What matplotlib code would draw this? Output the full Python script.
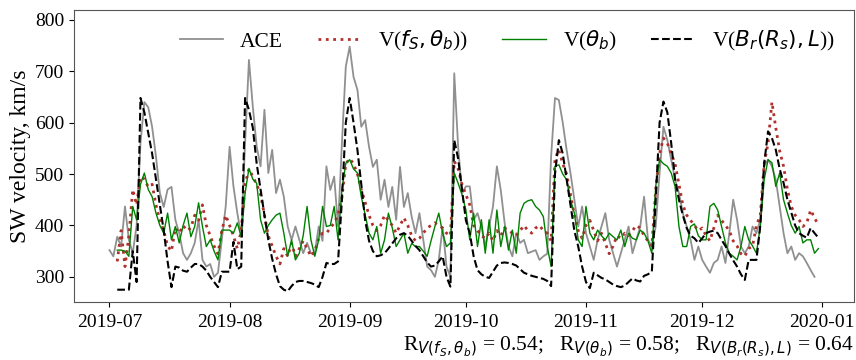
import matplotlib
matplotlib.use("Agg")
import matplotlib.pyplot as plt
import numpy as np
import pandas as pd

plt.rcParams['font.family'] = ['Liberation Serif', 'DejaVu Serif']
plt.rcParams['mathtext.fontset'] = 'dejavusans'

nan = np.nan
dates = pd.date_range('2019-07-01', periods=184, freq='D')

# скорость по данным ACE, км/с
ace = [352, 340, 378, 359, 437, 372, 346, 400, 560, 640,
       630, 592, 534, 463, 436, 470, 475, 411, 385, 346,
       333, 346, 366, 411, 333, 320, 325, 300, 308, 372,
       437, 553, 476, 424, 380, 560, 722, 631, 553, 515,
       625, 502, 547, 463, 489, 456, 398, 372, 398, 372,
       346, 366, 346, 346, 398, 370, 515, 469, 495, 398,
       560, 709, 748, 689, 664, 592, 605, 553, 514, 528,
       450, 489, 436, 475, 411, 514, 436, 463, 417, 385,
       424, 372, 320, 313, 300, 333, 397, 320, 300, 696,
       553, 463, 476, 476, 411, 424, 398, 359, 398, 437,
       515, 469, 405, 359, 340, 385, 366, 372, 346, 349,
       352, 333, 340, 345, 534, 648, 644, 600, 547, 502,
       450, 398, 437, 385, 359, 333, 372, 398, 424, 372,
       346, 320, 346, 372, 398, 346, 372, 398, 456, 372,
       360, 398, 502, 592, 566, 528, 489, 463, 424, 398,
       372, 333, 359, 333, 320, 308, 327, 333, 359, 327,
       385, 450, 411, 359, 346, 359, 398, 385, 411, 515,
       528, 515, 489, 437, 385, 346, 359, 333, 346, 340,
       327, 313, 300, nan]

# V(f_S, theta_b)
v_fs = [nan, nan, 330, 390, 320, 380, 470, 440, 495, 490,
        475, 480, 440, 410, 390, 360, 350, 395, 385, 400,
        390, 395, 420, 410, 440, 400, 380, 360, 345, 390,
        420, 400, 380, 355, 390, 480, 510, 495, 480, 460,
        420, 380, 360, 340, 325, 355, 340, 365, 340, 355,
        370, 355, 340, 350, 375, 385, 385, 395, 405, 420,
        455, 520, 530, 520, 500, 470, 445, 420, 400, 390,
        400, 420, 410, 400, 385, 400, 415, 400, 380, 370,
        375, 385, 395, 400, 405, 400, 395, 385, 380, 525,
        510, 480, 460, 440, 400, 390, 380, 375, 385, 370,
        390, 380, 395, 390, 385, 380, 390, 400, 390, 385,
        395, 400, 390, 385, 370, 530, 547, 520, 500, 460,
        420, 390, 375, 400, 410, 390, 370, 385, 365, 345,
        360, 380, 375, 385, 380, 390, 400, 395, 380, 370,
        360, 470, 540, 570, 560, 540, 520, 480, 440, 420,
        410, 400, 390, 395, 380, 370, 395, 420, 410, 400,
        390, 370, 360, 345, 340, 355, 360, 400, 420, 520,
        560, 640, 590, 545, 515, 470, 437, 420, 411, 398,
        405, 430, 415, 400]

# V(theta_b)
v_tb = [nan, nan, 352, 352, 350, 340, 437, 411, 480, 502,
        470, 456, 424, 400, 385, 424, 372, 398, 366, 400,
        424, 378, 398, 444, 398, 359, 372, 350, 333, 391,
        391, 391, 385, 405, 378, 463, 511, 490, 482, 411,
        385, 400, 411, 420, 424, 385, 340, 372, 333, 346,
        380, 437, 372, 340, 372, 437, 398, 400, 437, 372,
        470, 521, 528, 510, 502, 456, 420, 385, 372, 398,
        346, 372, 424, 395, 359, 372, 385, 346, 365, 359,
        359, 350, 340, 370, 398, 424, 385, 359, 366, 502,
        482, 460, 430, 372, 424, 359, 411, 346, 411, 346,
        430, 359, 398, 352, 391, 346, 424, 443, 448, 450,
        437, 430, 417, 359, 320, 515, 518, 500, 489, 450,
        424, 372, 359, 437, 385, 372, 391, 380, 372, 385,
        378, 372, 391, 359, 385, 375, 372, 391, 385, 370,
        346, 476, 528, 520, 515, 502, 476, 398, 359, 359,
        398, 403, 380, 372, 372, 437, 443, 430, 398, 366,
        346, 340, 333, 359, 398, 372, 360, 346, 398, 489,
        528, 522, 476, 502, 450, 424, 400, 385, 398, 366,
        372, 372, 346, 355]

# V(B_r(R_s), L)
v_br = [nan, nan, 275, 275, 275, 275, 350, 290, 648, 620,
        580, 540, 490, 440, 390, 330, 280, 320, 318, 312,
        310, 318, 325, 325, 320, 312, 300, 290, 280, 310,
        310, 310, 368, 315, 320, 648, 625, 590, 520, 470,
        420, 372, 335, 305, 282, 275, 272, 282, 290, 292,
        292, 290, 288, 285, 280, 300, 327, 325, 325, 330,
        450, 600, 648, 600, 547, 480, 410, 370, 350, 340,
        342, 346, 355, 365, 375, 382, 385, 380, 370, 360,
        352, 340, 328, 320, 322, 330, 340, 300, 281, 566,
        530, 470, 410, 385, 340, 313, 305, 300, 298, 310,
        322, 327, 328, 327, 325, 322, 315, 308, 305, 302,
        300, 298, 296, 292, 282, 500, 566, 540, 490, 440,
        390, 359, 320, 290, 278, 308, 303, 298, 295, 290,
        285, 282, 280, 283, 290, 297, 293, 291, 302, 305,
        310, 450, 600, 641, 620, 560, 490, 450, 420, 395,
        380, 375, 366, 375, 385, 388, 390, 385, 372, 360,
        345, 332, 320, 305, 294, 333, 333, 333, 400, 520,
        583, 570, 547, 510, 483, 450, 425, 400, 385, 380,
        376, 395, 385, 376]

fig = plt.figure(figsize=(8.56, 3.6), dpi=100)
ax = fig.add_axes([0.0865, 0.161, 0.911, 0.811])

ax.plot(dates, ace, color='#909090', lw=1.3, label='ACE')
ax.plot(dates, v_fs, color='#b0302c', lw=2.0, ls=':', label=r'V($f_S, \theta_b$))')
ax.plot(dates, v_tb, color='green', lw=1.0, label=r'V($\theta_b$)')
ax.plot(dates, v_br, color='black', lw=1.5, ls='--', label=r'V($B_r(R_s), L$))')

ax.set_ylim(251, 819)
ax.set_yticks([300, 400, 500, 600, 700, 800])
ax.set_ylabel('SW velocity, km/s', fontsize=17, labelpad=3)
ax.tick_params(labelsize=14)
ax.tick_params(axis='x', pad=5)
for s in ax.spines.values():
    s.set_color('#555555')

ax.legend(loc='upper right', ncol=4, frameon=False, fontsize=15.5,
          handlelength=2.0, columnspacing=1.6)

fig.text(0.997, 0.036,
         r'R$_{V(f_S,\theta_b)}$ = 0.54;   R$_{V(\theta_b)}$ = 0.58;   '
         r'R$_{V(B_r(R_s),L)}$ = 0.64',
         ha='right', va='center', fontsize=15.5)

fig.savefig('out.png', dpi=100)
